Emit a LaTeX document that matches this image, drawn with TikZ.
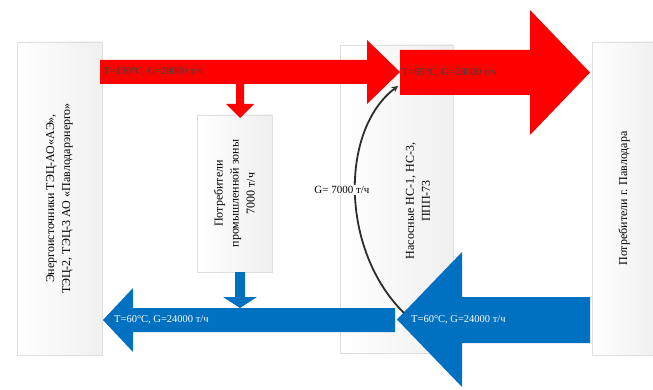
\documentclass[tikz,border=0pt]{standalone}
\usepackage{fontspec}
\setmainfont{Liberation Serif}
\usetikzlibrary{shadows}
\definecolor{hotred}{RGB}{255,0,0}
\definecolor{coldblue}{RGB}{0,112,192}
\definecolor{curvegray}{RGB}{45,45,45}
\begin{document}
\begin{tikzpicture}[x=1pt,y=-1pt,>=stealth,font=\fontsize{12}{16}\selectfont,
	box/.style={draw=gray!25,left color=white,right color=gray!12,rotate=90,align=center,inner sep=0pt,
		drop shadow={opacity=0.12,shadow xshift=1pt,shadow yshift=-1pt}},
	flowlbl/.style={font=\fontsize{10.5}{12}\selectfont,anchor=west,inner sep=0pt}]
	\useasboundingbox (0,0) rectangle (653,390);
	% блоки
	\node[box,minimum width=313pt,minimum height=85pt] (src) at (59.5,198.5) {Энергоисточники ТЭЦ-АО«АЭ»,\\ТЭЦ-2, ТЭЦ-3 АО «Павлодарэнерго»};
	\node[box,minimum width=157pt,minimum height=75pt] (ind) at (234.5,193.5) {Потребители\\промышленной зоны\\7000 т/ч};
	\node[box,minimum width=308pt,minimum height=113pt] (pump) at (396.5,199) {};
	\node[rotate=90,align=center] (pumplbl) at (418,201) {Насосные НС-1, НС-3,\\ППП-73};
	\node[box,minimum width=313pt,minimum height=64pt] (city) at (624,198.5) {Потребители г. Павлодара};
	% подача
	\fill[hotred] (100,60) -- (367,60) -- (367,40) -- (400,72) -- (367,104) -- (367,84) -- (100,84) -- cycle;
	\fill[hotred] (400,50) -- (530,50) -- (530,10) -- (590,72.5) -- (530,135) -- (530,95) -- (400,95) -- cycle;
	\fill[hotred] (236,84) -- (244,84) -- (244,104) -- (254,104) -- (240,118) -- (226,104) -- (236,104) -- cycle;
	% обратка
	\fill[coldblue] (235,272) -- (245,272) -- (245,297) -- (257,297) -- (240,308) -- (223,297) -- (235,297) -- cycle;
	\fill[coldblue] (395,308) -- (133,308) -- (133,288) -- (103,320) -- (133,352) -- (133,332) -- (395,332) -- cycle;
	\fill[coldblue] (590,297) -- (462,297) -- (462,252) -- (397,319.5) -- (462,387) -- (462,343) -- (590,343) -- cycle;
	\node[flowlbl,text=black!75] (t1) at (103,72) {Т=130°С, G=28000 т/ч};
	\node[flowlbl,text=black!75] (t2) at (402,72.5) {Т=95°С, G=28000 т/ч};
	\node[flowlbl,text=white] (t3) at (114,320) {Т=60°С, G=24000 т/ч};
	\node[flowlbl,text=white] (t4) at (411,320) {Т=60°С, G=24000 т/ч};
	% перемычка
	\coordinate (mixfrom) at (404,313);
	\coordinate (mixto) at (398,86);
	\draw[->,curvegray,line width=1.8pt] (mixfrom) .. controls (340,250) and (340,130) .. (mixto);
	\node[fill=white,inner sep=1pt,font=\fontsize{11}{13}\selectfont] (mixlbl) at (342,190) {G= 7000 т/ч};
\end{tikzpicture}
\end{document}
